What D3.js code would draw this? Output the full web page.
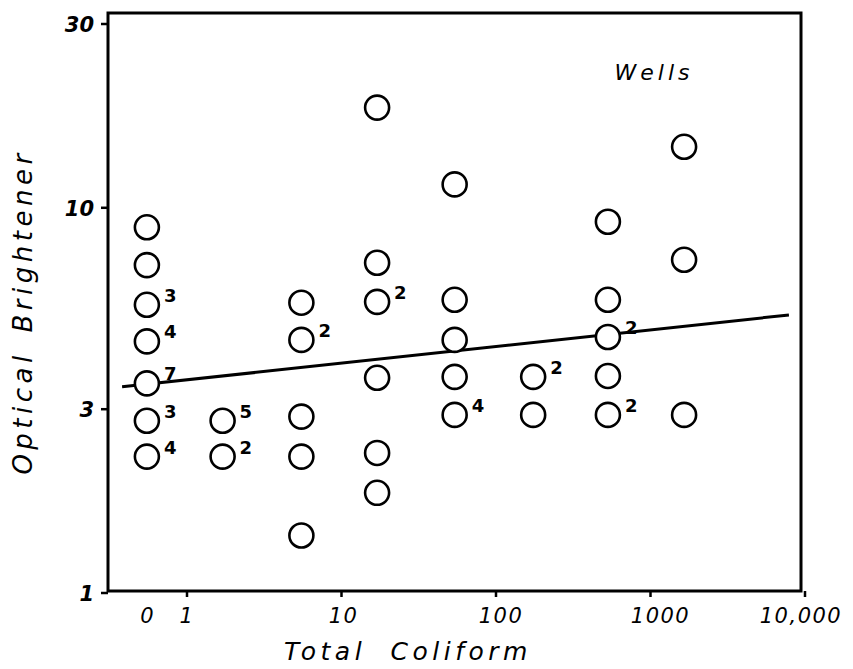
<!DOCTYPE html>
<html><head><meta charset="utf-8">
<script src="https://cdn.jsdelivr.net/npm/d3@7"></script>
<style>
body{margin:0;background:#fff;}
text{font-family:"DejaVu Sans",sans-serif;fill:#000;}
</style></head>
<body><svg id="c" width="853" height="669"></svg>
<script>
// Total coliform (0 = none detected) and optical brightener values, with multiplicity counts
const coliform = [0,0,0,0,0,0,0, 1.7,1.7, 5.5,5.5,5.5,5.5,5.5, 17,17,17,17,17,17, 54,54,54,54,54, 174,174, 530,530,530,530,530, 1650,1650,1650];
const brightener = [8.9,7.1,5.6,4.5,3.5,2.8,2.26, 2.8,2.26, 5.67,4.54,2.87,2.26,1.41, 18.2,7.2,5.7,3.62,2.31,1.82, 11.5,5.77,4.54,3.64,2.9, 3.64,2.9, 9.2,5.77,4.62,3.66,2.9, 14.4,7.33,2.9];
const counts = [1,1,3,4,7,3,4, 5,2, 1,2,1,1,1, 1,1,2,1,1,1, 1,1,1,1,4, 2,1, 1,1,2,1,2, 1,1,1];
const lineX = [0.38, 7870];
const lineY = [3.43, 5.27];
const xTickVals = [1,10,100,1000,10000];
const xTickLabels = ["1","10","100","1000","10,000"];
const yTickVals = [1,3,10,30];
const yTickLabels = ["1","3","10","30"];
const zeroLabel = "0";
const zeroPos = 0.55; // where the "0" column sits on the log axis
const xTitle = "Total Coliform", yTitle = "Optical Brightener", note = "Wells";

const svg = d3.select("#c");
const x = d3.scaleLog().domain([1,10000]).range([187,805]);
const y = d3.scaleLog().domain([1,30]).range([593,24]);
const px = v => v===0 ? x(zeroPos) : x(v);

const L = 108, R = 801, T = 13, B = 591;
const g = svg.append("g");
g.append("rect").attr("x",L).attr("y",T).attr("width",R-L).attr("height",B-T)
 .attr("fill","none").attr("stroke","#000").attr("stroke-width",3);

const italic = s => s.style("font-style","italic");
// y ticks
yTickVals.forEach((v,i)=>{
  g.append("line").attr("x1",L-7).attr("x2",L).attr("y1",y(v)).attr("y2",y(v)).attr("stroke","#000").attr("stroke-width",2.5);
  g.append("text").attr("x",L-14).attr("y",y(v)).attr("dy","0.38em").attr("text-anchor","end")
   .attr("font-size",21).attr("font-weight","bold").call(italic).text(yTickLabels[i]);
});
// x ticks
const xOff = [0,2,5,10,-4];
xTickVals.forEach((v,i)=>{
  g.append("line").attr("x1",x(v)).attr("x2",x(v)).attr("y1",B).attr("y2",B+6).attr("stroke","#000").attr("stroke-width",2.5);
  g.append("text").attr("x",x(v)+xOff[i]).attr("y",B+32).attr("text-anchor","middle")
   .attr("font-size",21).attr("letter-spacing",1.5).call(italic).text(xTickLabels[i]);
});
g.append("text").attr("x",px(0)).attr("y",B+32).attr("text-anchor","middle").attr("font-size",21).call(italic).text(zeroLabel);

// regression line
g.append("line").attr("x1",x(lineX[0])).attr("y1",y(lineY[0])).attr("x2",x(lineX[1])).attr("y2",y(lineY[1]))
 .attr("stroke","#000").attr("stroke-width",3);

// points
const data = coliform.map((c,i)=>({c, b:brightener[i], n:counts[i]}));
g.selectAll("circle.pt").data(data).enter().append("circle")
 .attr("cx",d=>px(d.c)).attr("cy",d=>y(d.b)).attr("r",12)
 .attr("fill","#fff").attr("stroke","#000").attr("stroke-width",2.6);
g.selectAll("text.cnt").data(data.filter(d=>d.n>1)).enter().append("text")
 .attr("x",d=>px(d.c)+17).attr("y",d=>y(d.b)-3)
 .attr("font-size",18).attr("font-weight","bold").text(d=>d.n);

// titles
svg.append("text").attr("transform","translate(32,312) rotate(-90)").attr("text-anchor","middle")
 .attr("font-size",26).attr("letter-spacing",4.5).attr("word-spacing",6).call(italic).text(yTitle);
svg.append("text").attr("x",408).attr("y",660).attr("text-anchor","middle")
 .attr("font-size",25).attr("letter-spacing",4.5).attr("word-spacing",12).call(italic).text(xTitle);
svg.append("text").attr("x",654).attr("y",80).attr("text-anchor","middle")
 .attr("font-size",22).attr("letter-spacing",4).call(italic).text(note);
</script></body></html>
